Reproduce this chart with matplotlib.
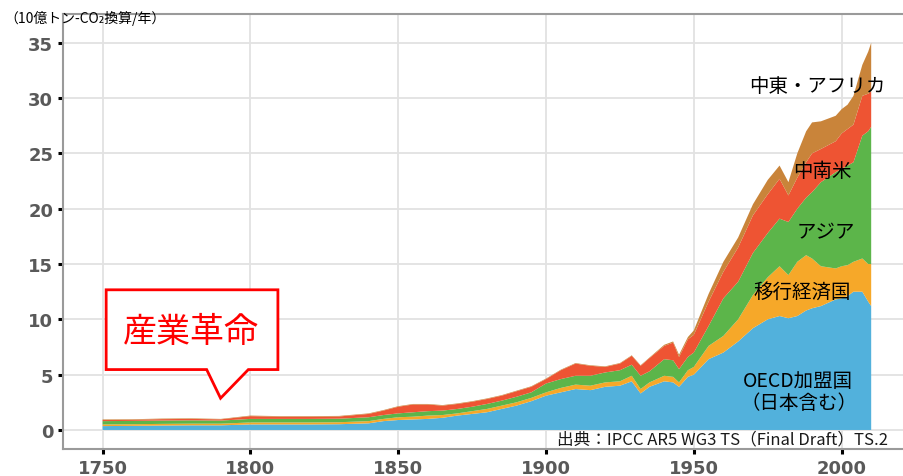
import numpy as np
import matplotlib
matplotlib.use('Agg')
import matplotlib.pyplot as plt
from matplotlib.patches import Polygon

plt.rcParams['font.family'] = ['Noto Sans CJK JP', 'DejaVu Sans']

# CO2 emissions by region (GtCO2-eq / yr)
years = [1750, 1760, 1770, 1780, 1790, 1800, 1810, 1820, 1830, 1840, 1845,
         1850, 1855, 1860, 1865, 1870, 1875, 1880, 1885, 1890, 1895,
         1900, 1905, 1910, 1915, 1920, 1925, 1929, 1932, 1935, 1940, 1943,
         1945, 1948, 1950, 1955, 1960, 1965, 1970, 1975, 1979, 1982, 1985,
         1988, 1990, 1993, 1998, 2000, 2002, 2004, 2007, 2009, 2010]

oecd = [0.35, 0.37, 0.40, 0.42, 0.42, 0.50, 0.50, 0.50, 0.52, 0.60, 0.80,
        0.90, 0.95, 1.00, 1.10, 1.30, 1.45, 1.60, 1.90, 2.20, 2.60,
        3.10, 3.40, 3.70, 3.60, 3.90, 4.00, 4.40, 3.30, 3.90, 4.40, 4.30,
        3.90, 4.80, 5.00, 6.40, 7.00, 8.00, 9.20, 10.00, 10.30, 10.10, 10.30,
        10.80, 11.00, 11.20, 11.80, 11.90, 12.10, 12.50, 12.50, 11.60, 11.20]

transition = [0.15, 0.15, 0.15, 0.15, 0.15, 0.18, 0.18, 0.18, 0.18, 0.20, 0.20,
              0.25, 0.25, 0.30, 0.25, 0.20, 0.25, 0.30, 0.30, 0.30, 0.30,
              0.30, 0.40, 0.40, 0.40, 0.40, 0.40, 0.50, 0.40, 0.40, 0.50, 0.50,
              0.40, 0.60, 0.70, 1.20, 1.50, 2.00, 3.00, 3.80, 4.50, 3.90, 4.90,
              5.00, 4.50, 3.60, 2.80, 2.90, 2.80, 2.70, 3.00, 3.40, 3.80]

asia = [0.30, 0.30, 0.30, 0.30, 0.28, 0.32, 0.32, 0.32, 0.32, 0.35, 0.35,
        0.35, 0.40, 0.40, 0.40, 0.40, 0.40, 0.45, 0.45, 0.50, 0.50,
        0.80, 0.80, 0.80, 0.90, 0.90, 1.00, 1.00, 1.20, 1.00, 1.50, 1.50,
        1.20, 1.20, 1.30, 1.80, 3.40, 3.40, 3.80, 4.00, 4.30, 4.80, 4.80,
        5.20, 6.00, 7.60, 8.70, 8.80, 9.00, 9.00, 11.10, 12.00, 12.40]

latin_america = [0.10, 0.10, 0.13, 0.13, 0.11, 0.25, 0.20, 0.20, 0.20, 0.30, 0.40,
                 0.60, 0.70, 0.60, 0.45, 0.45, 0.45, 0.45, 0.45, 0.50, 0.50,
                 0.40, 0.80, 1.10, 0.90, 0.50, 0.60, 0.80, 0.90, 1.20, 1.20, 1.60,
                 1.10, 1.60, 1.60, 2.20, 2.40, 3.10, 3.40, 3.50, 3.60, 2.40, 2.80,
                 3.20, 3.50, 3.00, 2.80, 3.20, 3.30, 3.40, 3.60, 3.40, 3.20]

mea = [0.05, 0.05, 0.05, 0.05, 0.04, 0.05, 0.05, 0.05, 0.05, 0.05, 0.05,
       0.05, 0.05, 0.05, 0.05, 0.05, 0.05, 0.05, 0.05, 0.05, 0.05,
       0.05, 0.05, 0.05, 0.05, 0.05, 0.05, 0.05, 0.05, 0.05, 0.10, 0.10,
       0.20, 0.20, 0.40, 0.70, 0.90, 0.90, 1.00, 1.30, 1.20, 1.20, 2.20,
       2.80, 2.80, 2.50, 2.30, 2.20, 2.20, 2.60, 2.80, 3.80, 4.40]

colors = ['#52b1dc', '#f6a829', '#5cb54a', '#ee5433', '#c9843a']
region_labels = ['OECD加盟国\n（日本含む）', '移行経済国', 'アジア', '中南米', '中東・アフリカ']

fig = plt.figure(figsize=(9.04, 4.77), dpi=100)
ax = fig.add_axes([63 / 904, 27 / 477, 841 / 904, 435 / 477])

ax.stackplot(years, oecd, transition, asia, latin_america, mea,
             colors=colors, linewidth=0, zorder=2)

# axes ranges and ticks
ax.set_xlim(1736.6, 2021.1)
ax.set_ylim(-1.72, 37.6)
ax.set_xticks([1750, 1800, 1850, 1900, 1950, 2000])
ax.set_yticks([0, 5, 10, 15, 20, 25, 30, 35])
ax.grid(True, color='#e2e2e2', linewidth=1.3, zorder=0)
ax.set_axisbelow(True)

ax.tick_params(axis='both', direction='out', length=3.5, width=2.2,
               color='black', pad=3.5)
for lab in ax.get_xticklabels() + ax.get_yticklabels():
    lab.set_family('DejaVu Sans')
    lab.set_fontweight('bold')
    lab.set_fontsize(13)
    lab.set_color('#595959')

for side in ['left', 'bottom', 'top']:
    ax.spines[side].set_color('#9a9a9a')
    ax.spines[side].set_linewidth(1.5)
ax.spines['right'].set_visible(False)

# region labels
ax.text(2015, 31.1, '中東・アフリカ', fontsize=14, ha='right', va='center', zorder=5)
ax.text(1993.4, 23.5, '中南米', fontsize=14, ha='center', va='center', zorder=5)
ax.text(1994.7, 17.9, 'アジア', fontsize=14, ha='center', va='center', zorder=5)
ax.text(1986.6, 12.5, '移行経済国', fontsize=14, ha='center', va='center', zorder=5)
ax.text(1985.3, 4.5, 'OECD加盟国', fontsize=14, ha='center', va='center', zorder=5)
ax.text(1985.5, 2.5, '（日本含む）', fontsize=14, ha='center', va='center', zorder=5)

# source
ax.text(2015.7, -0.8, '出典：IPCC AR5 WG3 TS（Final Draft）TS.2', fontsize=12,
        ha='right', va='center', color='#1a1a1a', zorder=5)

# callout bubble
bubble = Polygon([(1751.2, 12.67), (1809.3, 12.67), (1809.3, 5.46), (1799.3, 5.46),
                  (1789.9, 2.87), (1785.2, 5.46), (1751.2, 5.46)],
                 closed=True, facecolor='white', edgecolor='#ff0000',
                 linewidth=2, zorder=6)
ax.add_patch(bubble)
ax.text(1780.0, 8.9, '産業革命', fontsize=24.5, color='#ff0000',
        ha='center', va='center', zorder=7)

# unit label
fig.text(0.005, 0.962, '（10億トン-CO₂換算/年）', fontsize=10,
         ha='left', va='center')

plt.savefig('out.png', dpi=100)
